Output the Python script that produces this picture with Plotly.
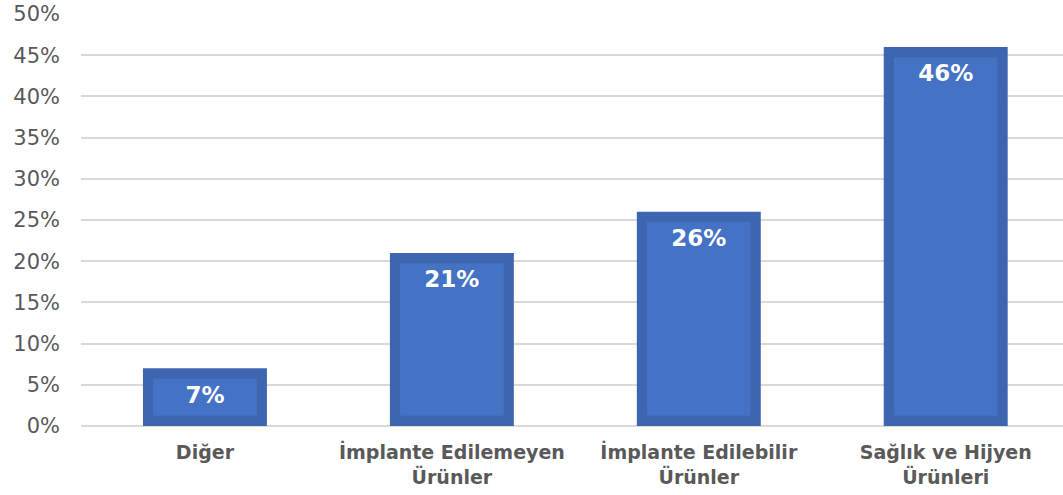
import plotly.graph_objects as go

categories = ["Diğer", "İmplante Edilemeyen<br>Ürünler", "İmplante Edilebilir<br>Ürünler", "Sağlık ve Hijyen<br>Ürünleri"]
values = [7, 21, 26, 46]
labels = ["7%", "21%", "26%", "46%"]

INSET = 1.25  # border thickness in % units (style)
OUTER_W = 0.502
INNER_W = 0.42

fig = go.Figure()
fig.add_trace(go.Bar(
    x=categories, y=values, width=OUTER_W,
    marker=dict(color="#3E66B0", line=dict(width=0)),
    hoverinfo="skip", showlegend=False,
))
fig.add_trace(go.Bar(
    x=categories, y=[v - 2 * INSET for v in values], base=[INSET] * len(values),
    width=INNER_W,
    marker=dict(color="#4472C4", line=dict(width=0)),
    text=labels, textposition="inside", insidetextanchor="end",
    textfont=dict(family="DejaVu Sans", size=23, color="white", weight="bold"),
    textangle=0, showlegend=False,
))

fig.update_layout(
    barmode="overlay",
    width=1063, height=495,
    margin=dict(l=81, r=0, t=14, b=69),
    paper_bgcolor="white", plot_bgcolor="white",
    xaxis=dict(
        range=[-0.502, 3.475], showgrid=False, showline=False, zeroline=False,
        tickfont=dict(family="DejaVu Sans", size=19, color="#595959", weight="bold"),
        ticklabelstandoff=13,
    ),
    yaxis=dict(
        range=[0, 50], tickvals=[0, 5, 10, 15, 20, 25, 30, 35, 40, 45, 50],
        ticktext=["0%", "5%", "10%", "15%", "20%", "25%", "30%", "35%", "40%", "45%", "50%"],
        gridcolor="#D9D9D9", gridwidth=1.5, zeroline=True, zerolinecolor="#D9D9D9", zerolinewidth=1.5,
        showline=False,
        tickfont=dict(family="DejaVu Sans", size=21, color="#595959"),
        ticklabelstandoff=20,
    ),
)

fig.write_html("out.html")
